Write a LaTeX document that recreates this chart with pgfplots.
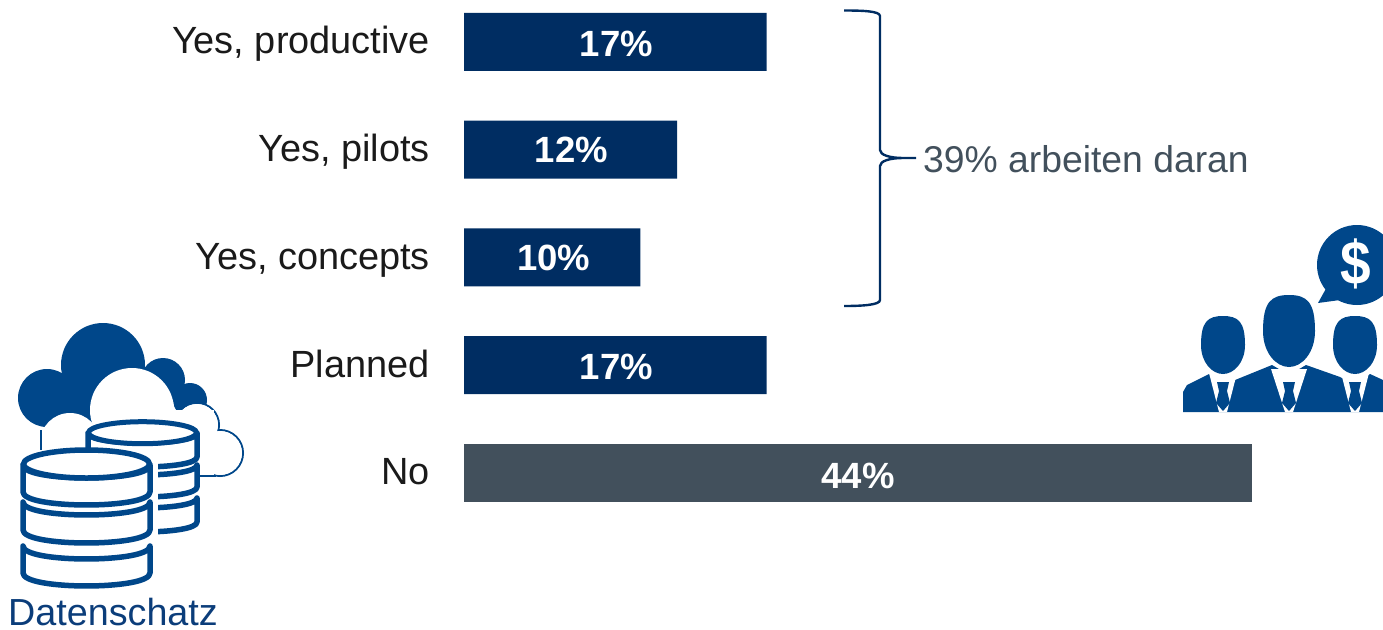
\documentclass[border=0pt]{standalone}
\usepackage{fontspec}
\setmainfont{Liberation Sans}
\usepackage{pgfplots}
\pgfplotsset{compat=1.18}
\definecolor{navy}{HTML}{002D62}
\definecolor{slategrey}{HTML}{42505C}
\definecolor{icon}{HTML}{00478A}
\definecolor{datext}{HTML}{0B3D7A}
\definecolor{labeltext}{HTML}{1A1A1A}
\newcommand{\bigfont}{\fontsize{37.3}{40}\selectfont}
\newcommand{\labfont}{\fontsize{37.9}{40}\selectfont}
\newcommand{\barfont}{\fontsize{36.5}{40}\selectfont\bfseries}
% one band of a database cylinder: x0 x1 ystart yend depth
\newcommand{\band}[5]{%
  \filldraw[fill=white,draw=icon,line width=5.5pt,line join=round,line cap=round]
    (#1,#3) .. controls (#1,{#3+#5*1.33}) and (#2,{#3+#5*1.33}) .. (#2,#3)
    -- (#2,#4) .. controls (#2,{#4+#5*1.33}) and (#1,{#4+#5*1.33}) .. (#1,#4) -- cycle;}
% head: cx cy rx ry
\newcommand{\head}[4]{%
  \fill[icon] ({#1-#3},#2) .. controls ({#1-#3},{#2-.8*#4}) and ({#1-.7*#3},{#2-#4}) .. (#1,{#2-#4})
    .. controls ({#1+.7*#3},{#2-#4}) and ({#1+#3},{#2-.8*#4}) .. ({#1+#3},#2)
    .. controls ({#1+#3},{#2+.6*#4}) and ({#1+.5*#3},{#2+#4}) .. (#1,{#2+#4})
    .. controls ({#1-.5*#3},{#2+#4}) and ({#1-#3},{#2+.6*#4}) .. ({#1-#3},#2) -- cycle;}
\begin{document}
\begin{tikzpicture}
\path[use as bounding box] (0pt,0pt) rectangle (1383pt,-629pt);
\begin{axis}[
  at={(464pt,-1pt)}, anchor=north west,
  scale only axis, width=788pt, height=512.9pt,
  xmin=0, xmax=44, ymin=-0.38, ymax=4.38,
  y dir=reverse, xbar, bar width=58pt, bar shift=0pt,
  axis line style={draw=none},
  xtick=\empty,
  ytick={0,1,2,3,4},
  yticklabels={{Yes, productive},{Yes, pilots},{Yes, concepts},{Planned},{No}},
  major tick length=0pt,
  yticklabel style={font=\labfont, text=labeltext, inner sep=0pt, xshift=-34pt, text height=28pt, text depth=4pt},
  clip=false,
]
\addplot[fill=navy,draw=none] coordinates {(16.9,0) (11.9,1) (9.85,2) (16.9,3)};
\addplot[fill=slategrey,draw=none] coordinates {(44,4)};
\node[text=white,font=\barfont,yshift=-2pt] at (axis cs:8.5,0) {17\%};
\node[text=white,font=\barfont] at (axis cs:6,1) {12\%};
\node[text=white,font=\barfont] at (axis cs:5,2) {10\%};
\node[text=white,font=\barfont,yshift=-2pt] at (axis cs:8.5,3) {17\%};
\node[text=white,font=\barfont,yshift=-3pt] at (axis cs:22,4) {44\%};
\end{axis}
\begin{scope}[x=1pt,y=-1pt]
% bracket
\draw[navy,line width=2.4pt,line join=round]
  (844,10.5) .. controls (862,10.5) and (880,11) .. (880,16) -- (880,150)
  .. controls (880,155) and (890,158) .. (903,158) -- (916,158)
  (903,158) .. controls (890,158) and (880,161) .. (880,166) -- (880,300)
  .. controls (880,305) and (862,306) .. (844,306);
\node[anchor=west,inner sep=0pt,text=slategrey,font=\bigfont] at (923,159) {39\% arbeiten daran};
% cloud back
\fill[icon] (103,365) circle[radius=42];
\fill[icon] (47,398) circle[radius=29];
\fill[icon] (163,380) circle[radius=22];
\fill[icon] (190,400) circle[radius=17];
\fill[icon] (47,375) rectangle (160,420);
\fill[icon] (60,420) -- (150,420) -- (100,440) -- cycle;
% cloud front
\filldraw[fill=white,draw=icon,line width=2pt] (197,425) circle[radius=22];
\filldraw[fill=white,draw=icon,line width=2pt] (220,453) circle[radius=23];
\filldraw[fill=white,draw=icon,line width=2pt] (165,425) rectangle (215,476);
\fill[white] (165,410) rectangle (214,474.5);
\fill[white] (197,425) circle[radius=21];
\fill[white] (220,453) circle[radius=22];
\fill[white] (132,410) circle[radius=42];
\fill[white] (70,443) circle[radius=30];
\fill[white] (70,440) rectangle (180,476);
\draw[icon,line width=2.5pt] (41,450) -- (41,430);
% back database
\band{88}{197}{433}{457}{10}
\band{88}{197}{465}{487}{10}
\band{88}{197}{498}{522}{10}
\filldraw[fill=white,draw=icon,line width=5pt] (142.5,432.7) ellipse[x radius=54,y radius=11];
% front database
\fill[white] (15,455) rectangle (158,595);
\band{23}{150}{465}{492}{13}
\band{23}{150}{502}{530}{13}
\band{23}{150}{546}{573}{13}
\filldraw[fill=white,draw=icon,line width=5.5pt] (86.5,464) ellipse[x radius=63,y radius=14];
\node[anchor=base west,inner sep=0pt,text=datext,font=\labfont,scale=0.995] at (8,625) {Datenschatz};
% people
\fill[icon] (1357,265) circle[radius=40];
\fill[icon] (1328,285) -- (1318,303) -- (1340,300) -- cycle;
\node[text=white,font=\fontsize{55}{55}\selectfont\bfseries,yscale=1.12] at (1356,264) {\$};
\fill[icon] (1183,412) -- (1183,392) -- (1187,385) -- (1209,374) -- (1223,385) -- (1240,378)
  -- (1272,365) -- (1289,375) -- (1306,365) -- (1340,377) -- (1355,385) -- (1370,374)
  -- (1383,380) -- (1383,412) -- cycle;
\foreach \cx/\a in {1223/12, 1289/15, 1355/12}{
  \fill[white] ({\cx-\a-3},369) -- ({\cx-4},412) -- ({\cx+4},412) -- ({\cx+\a+3},369) -- cycle;
  \fill[icon] ({\cx-6},382) -- ({\cx+6},382) -- ({\cx+4},391) -- ({\cx+7},403) -- (\cx,411) -- ({\cx-7},403) -- ({\cx-4},391) -- cycle;
}
\head{1289}{331}{26}{36}
\head{1223}{345}{22}{29}
\head{1355}{345}{22}{29}
\end{scope}
\end{tikzpicture}
\end{document}
